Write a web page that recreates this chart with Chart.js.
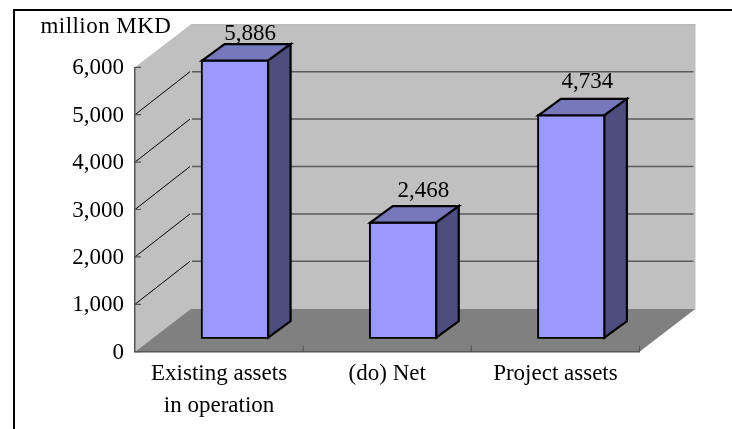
<!DOCTYPE html>
<html>
<head>
<meta charset="utf-8">
<style>
  html, body { margin: 0; padding: 0; background: #fff; overflow: hidden; }
  canvas { display: block; }
</style>
<script src="https://cdn.jsdelivr.net/npm/chart.js@4"></script>
</head>
<body>
<canvas id="chart" width="732" height="429"></canvas>
<script>
// Asset values in million MKD
const categories = [["Existing assets", "in operation"], "(do) Net", "Project assets"];
const assetValues = [5886, 2468, 4734];
const valueLabels = ["5,886", "2,468", "4,734"];
const axisUnit = "million MKD";
const labelNudgeX = [-1, 4, 0];
const labelNudgeY = [-33, -38, -39];

// Oblique projection of the box that surrounds the plot
const WALL_DX = 56, WALL_DY = 43;
const BAR_SHIFT_X = 16, BAR_SHIFT_Y = -13;
const BAR_DEPTH_X = 22.5, BAR_DEPTH_Y = 16.5;
const FONT = '23px "Liberation Serif"';

const boxPlugin = {
  id: 'box3d',
  beforeDraw(chart) {
    const { ctx, chartArea: a, scales: { y } } = chart;

    // outer frame, open past the window edge
    ctx.save();
    ctx.strokeStyle = '#000';
    ctx.lineWidth = 2;
    ctx.strokeRect(14, 10, 760, 460);

    // back wall
    ctx.fillStyle = '#c0c0c0';
    ctx.fillRect(a.left + WALL_DX, a.top - WALL_DY, a.right - a.left, a.bottom - a.top);
    ctx.strokeStyle = '#b2b2b2';
    ctx.lineWidth = 1;
    ctx.beginPath();
    ctx.moveTo(a.left + WALL_DX, a.top - WALL_DY + 0.5);
    ctx.lineTo(a.right + WALL_DX, a.top - WALL_DY + 0.5);
    ctx.stroke();

    // side wall
    ctx.beginPath();
    ctx.moveTo(a.left, a.top);
    ctx.lineTo(a.left + WALL_DX, a.top - WALL_DY);
    ctx.lineTo(a.left + WALL_DX, a.bottom - WALL_DY);
    ctx.lineTo(a.left, a.bottom);
    ctx.closePath();
    ctx.fill();

    // floor
    ctx.fillStyle = '#808080';
    ctx.beginPath();
    ctx.moveTo(a.left, a.bottom);
    ctx.lineTo(a.left + WALL_DX, a.bottom - WALL_DY);
    ctx.lineTo(a.right + WALL_DX, a.bottom - WALL_DY);
    ctx.lineTo(a.right, a.bottom);
    ctx.closePath();
    ctx.fill();

    // gridlines wrap from the side wall onto the back wall
    y.ticks.forEach(t => {
      const py = y.getPixelForValue(t.value);
      if (t.value === 0 || t.value === y.max) return;
      ctx.strokeStyle = '#000';
      ctx.lineWidth = 1;
      ctx.beginPath();
      ctx.moveTo(a.left, py);
      ctx.lineTo(a.left + WALL_DX - 1, py - WALL_DY);
      ctx.stroke();
      ctx.strokeStyle = '#5a5a5a';
      ctx.lineWidth = 1.5;
      ctx.beginPath();
      ctx.moveTo(a.left + WALL_DX + 1, py - WALL_DY);
      ctx.lineTo(a.right + WALL_DX - 2, py - WALL_DY);
      ctx.stroke();
    });
    ctx.restore();
  },
  beforeDatasetsDraw(chart) {
    const { ctx, chartArea: a, scales: { x, y } } = chart;
    ctx.save();
    ctx.strokeStyle = '#555';
    ctx.lineWidth = 1.2;
    ctx.beginPath();
    y.ticks.forEach(t => {
      const py = y.getPixelForValue(t.value);
      ctx.moveTo(a.left, py);
      ctx.lineTo(a.left + 6, py);
    });
    const step = (a.right - a.left) / categories.length;
    categories.forEach((c, i) => {
      const px = x.getPixelForValue(i) + step / 2;
      ctx.moveTo(px, a.bottom);
      ctx.lineTo(px, a.bottom - 6);
    });
    ctx.stroke();
    ctx.restore();
  },
  beforeDatasetDraw(chart) {
    chart.ctx.save();
    chart.ctx.translate(BAR_SHIFT_X, BAR_SHIFT_Y);
  },
  afterDatasetDraw(chart) {
    const { ctx } = chart;
    chart.getDatasetMeta(0).data.forEach(bar => {
      const l = bar.x - bar.width / 2, r = bar.x + bar.width / 2;
      const insetT = bar.y + 1, insetB = bar.base - 1, insetL = l + 1, insetR = r - 1;
      ctx.lineJoin = 'miter';
      ctx.lineWidth = 2.2;
      ctx.strokeStyle = '#000';
      // top face
      ctx.fillStyle = '#7777bb';
      ctx.beginPath();
      ctx.moveTo(insetL, insetT);
      ctx.lineTo(insetL + BAR_DEPTH_X, insetT - BAR_DEPTH_Y);
      ctx.lineTo(insetR + BAR_DEPTH_X, insetT - BAR_DEPTH_Y);
      ctx.lineTo(insetR, insetT);
      ctx.closePath();
      ctx.fill();
      ctx.stroke();
      // side face
      ctx.fillStyle = '#4d4d80';
      ctx.beginPath();
      ctx.moveTo(insetR, insetT);
      ctx.lineTo(insetR + BAR_DEPTH_X, insetT - BAR_DEPTH_Y);
      ctx.lineTo(insetR + BAR_DEPTH_X, insetB - BAR_DEPTH_Y);
      ctx.lineTo(insetR, insetB);
      ctx.closePath();
      ctx.fill();
      ctx.stroke();
    });
    ctx.restore();
  },
  afterDraw(chart) {
    const { ctx } = chart;
    ctx.save();
    ctx.font = FONT;
    ctx.fillStyle = '#000';
    ctx.textBaseline = 'alphabetic';
    ctx.textAlign = 'left';
    ctx.letterSpacing = '0.45px';
    ctx.fillText(axisUnit, 40.5, 32.5);
    ctx.letterSpacing = '0px';
    ctx.textAlign = 'center';
    chart.getDatasetMeta(0).data.forEach((bar, i) => {
      ctx.fillText(valueLabels[i], bar.x + 2 * BAR_SHIFT_X + labelNudgeX[i], bar.y + labelNudgeY[i]);
    });
    ctx.restore();
  }
};

new Chart(document.getElementById('chart'), {
  type: 'bar',
  data: {
    labels: categories,
    datasets: [{
      data: assetValues,
      backgroundColor: '#9999ff',
      borderColor: '#000',
      borderWidth: 2,
      borderSkipped: false,
      barThickness: 68
    }]
  },
  plugins: [boxPlugin],
  options: {
    responsive: false,
    animation: false,
    events: [],
    layout: { padding: { top: 67.3, right: 92.5, left: 0, bottom: 0 } },
    plugins: { legend: { display: false }, tooltip: { enabled: false }, title: { display: false } },
    scales: {
      x: {
        offset: true,
        afterFit(s) { s.height = 77.3; },
        grid: { display: false, drawTicks: false },
        border: { display: true, color: '#555', width: 1.5 },
        ticks: {
          color: '#000',
          padding: 6,
          maxRotation: 0,
          autoSkip: false,
          font: { family: '"Liberation Serif"', size: 23, lineHeight: 1.39 }
        }
      },
      y: {
        min: 0,
        max: 6000,
        afterFit(s) { s.width = 135; },
        grid: { display: false, drawTicks: false },
        border: { display: true, color: '#555', width: 1.5 },
        ticks: {
          stepSize: 1000,
          color: '#000',
          padding: 11,
          labelOffset: 1,
          font: { family: '"Liberation Serif"', size: 23 },
          callback: v => v.toLocaleString('en-US')
        }
      }
    }
  }
});
</script>
</body>
</html>
